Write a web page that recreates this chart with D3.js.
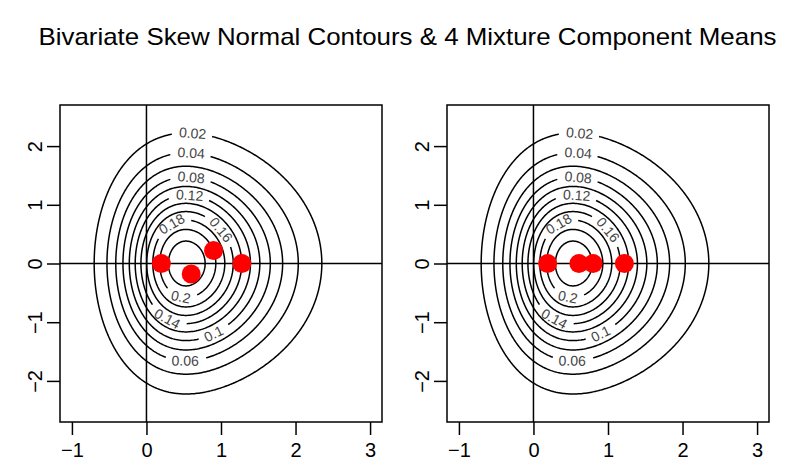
<!DOCTYPE html>
<html>
<head>
<meta charset="utf-8">
<script src="https://cdn.jsdelivr.net/npm/d3@7"></script>
<style>
  body { margin: 0; background: #fff; }
  text { font-family: "Liberation Sans", Arial, sans-serif; }
</style>
</head>
<body>
<svg id="chart" width="800" height="471"></svg>
<script>
// skew normal parameters (location, scale, shape) for x and y
const xi = [0, 0];
const omega = [1, 1];
const alpha = [2, 0];

// contour levels drawn, and those carrying a label
const levels = [0.02, 0.04, 0.06, 0.08, 0.1, 0.12, 0.14, 0.16, 0.18, 0.2, 0.22];
const labelLevels = [0.02, 0.04, 0.06, 0.08, 0.1, 0.12, 0.14, 0.16, 0.18, 0.2];

// mixture component means, left and right panel
const meansLeftX = [0.2, 0.6, 0.9, 1.28];
const meansLeftY = [0, -0.18, 0.22, 0];
const meansRightX = [0.19, 0.61, 0.8, 1.22];
const meansRightY = [0, 0, 0, 0];

const xTicks = [-1, 0, 1, 2, 3];
const yTicks = [-2, -1, 0, 1, 2];
const xDomain = [-1.16, 3.16];
const yDomain = [-2.7, 2.7];

// where each label sits on its ring (direction from the mode, degrees)
const labelDir = {
  0.02: 88, 0.04: 88, 0.08: 88, 0.12: 88,
  0.18: 107, 0.16: 51, 0.2: -99, 0.14: -105, 0.1: -73, 0.06: -91,
};

const svg = d3.select('#chart');

svg.append('text')
  .attr('x', 407.5)
  .attr('y', 45)
  .attr('text-anchor', 'middle')
  .attr('font-size', 24)
  .attr('textLength', 738)
  .attr('lengthAdjust', 'spacingAndGlyphs')
  .text('Bivariate Skew Normal Contours & 4 Mixture Component Means');

// normal cdf
function pnorm(z) {
  const t = 1 / (1 + 0.2316419 * Math.abs(z));
  const d = 0.3989423 * Math.exp(-z * z / 2);
  const p = d * t * (0.3193815 + t * (-0.3565638 + t * (1.781478 + t * (-1.821256 + t * 1.330274))));
  return z > 0 ? 1 - p : p;
}
function dsn(x, y) {
  const z1 = (x - xi[0]) / omega[0];
  const z2 = (y - xi[1]) / omega[1];
  const phi = Math.exp(-(z1 * z1 + z2 * z2) / 2) / (2 * Math.PI * omega[0] * omega[1]);
  return 2 * phi * pnorm(alpha[0] * z1 + alpha[1] * z2);
}

// density grid
const step = 0.02;
const nx = Math.round((xDomain[1] - xDomain[0]) / step) + 1;
const ny = Math.round((yDomain[1] - yDomain[0]) / step) + 1;
const values = new Array(nx * ny);
let best = -1;
let mode = [0, 0];
for (let j = 0; j < ny; j++) {
  for (let i = 0; i < nx; i++) {
    const gx = xDomain[0] + i * step;
    const gy = yDomain[0] + j * step;
    const v = dsn(gx, gy);
    values[j * nx + i] = v;
    if (v > best) { best = v; mode = [gx, gy]; }
  }
}
const contours = d3.contours().size([nx, ny]).thresholds(levels)(values);

function drawPanel(left, right, mx, my) {
  const x = d3.scaleLinear().domain(xDomain).range([left, right]);
  const y = d3.scaleLinear().domain(yDomain).range([422, 105]);
  const g = svg.append('g');

  const toData = p => [xDomain[0] + (p[0] - 0.5) * step, yDomain[0] + (p[1] - 0.5) * step];

  contours.forEach((c) => {
    const rings = c.coordinates.map(poly => poly[0]).sort((a, b) => b.length - a.length);
    if (!rings.length) return;
    const ring = rings[0].slice(0, -1);
    const dat = ring.map(toData);
    const pts = dat.map(d => [x(d[0]), y(d[1])]);
    const n = pts.length;

    if (labelLevels.indexOf(c.value) < 0) {
      g.append('path')
        .attr('d', d3.line()(pts) + 'Z')
        .attr('fill', 'none')
        .attr('stroke', '#000')
        .attr('stroke-width', 1.5);
      return;
    }

    // point on the ring closest to the wanted direction
    const want = labelDir[c.value] * Math.PI / 180;
    let k = 0;
    let bestDiff = 10;
    dat.forEach((d, i) => {
      const a = Math.atan2(d[1] - mode[1], d[0] - mode[0]);
      let diff = Math.abs(a - want);
      if (diff > Math.PI) diff = 2 * Math.PI - diff;
      if (diff < bestDiff) { bestDiff = diff; k = i; }
    });
    const p0 = pts[(k - 3 + n) % n];
    const p1 = pts[(k + 3) % n];
    let ang = Math.atan2(p1[1] - p0[1], p1[0] - p0[0]) * 180 / Math.PI;
    if (ang > 90) ang -= 180;
    if (ang < -90) ang += 180;

    const txt = g.append('text')
      .attr('transform', `translate(${pts[k][0]},${pts[k][1]}) rotate(${ang})`)
      .attr('text-anchor', 'middle')
      .attr('dy', '0.35em')
      .attr('font-size', 14)
      .attr('fill', '#444')
      .text(String(+c.value.toFixed(2)));
    const r = txt.node().getComputedTextLength() / 2 + 6;

    // break the ring where the label sits
    const dist = i => Math.hypot(pts[i][0] - pts[k][0], pts[i][1] - pts[k][1]);
    let s = k;
    while (dist(s) < r) s = (s + 1) % n;
    let e = k;
    while (dist(e) < r) e = (e - 1 + n) % n;
    const line = [];
    for (let i = s; ; i = (i + 1) % n) {
      line.push(pts[i]);
      if (i === e) break;
    }
    g.append('path')
      .attr('d', d3.line()(line))
      .attr('fill', 'none')
      .attr('stroke', '#000')
      .attr('stroke-width', 1.5);
  });

  // reference lines at 0
  g.append('line')
    .attr('x1', left).attr('x2', right)
    .attr('y1', y(0)).attr('y2', y(0))
    .attr('stroke', '#000').attr('stroke-width', 1.5);
  g.append('line')
    .attr('x1', x(0)).attr('x2', x(0))
    .attr('y1', 105).attr('y2', 422)
    .attr('stroke', '#000').attr('stroke-width', 1.5);

  // component means
  g.selectAll('circle')
    .data(mx)
    .join('circle')
    .attr('cx', d => x(d))
    .attr('cy', (d, i) => y(my[i]))
    .attr('r', 9.5)
    .attr('fill', '#ff0000');

  // box
  g.append('rect')
    .attr('x', left).attr('y', 105)
    .attr('width', right - left).attr('height', 317)
    .attr('fill', 'none')
    .attr('stroke', '#000')
    .attr('stroke-width', 1.5);

  // axes
  const ax = g.append('g')
    .attr('transform', 'translate(0,422)')
    .call(d3.axisBottom(x).tickValues(xTicks).tickSize(13).tickPadding(8).tickFormat(d3.format('')));
  ax.select('.domain').remove();
  ax.selectAll('line').attr('stroke-width', 1.5);
  ax.selectAll('text').attr('font-size', 20).attr('font-family', '"Liberation Sans", Arial, sans-serif');

  const ay = g.append('g')
    .attr('transform', `translate(${left},0)`)
    .call(d3.axisLeft(y).tickValues(yTicks).tickSize(13).tickFormat(d3.format('')));
  ay.select('.domain').remove();
  ay.selectAll('line').attr('stroke-width', 1.5);
  ay.selectAll('text')
    .attr('x', 0)
    .attr('y', -18)
    .attr('dy', 0)
    .attr('transform', 'rotate(-90)')
    .attr('text-anchor', 'middle')
    .attr('font-size', 20)
    .attr('font-family', '"Liberation Sans", Arial, sans-serif');
}

drawPanel(60, 382, meansLeftX, meansLeftY);
drawPanel(447, 769, meansRightX, meansRightY);
</script>
</body>
</html>
